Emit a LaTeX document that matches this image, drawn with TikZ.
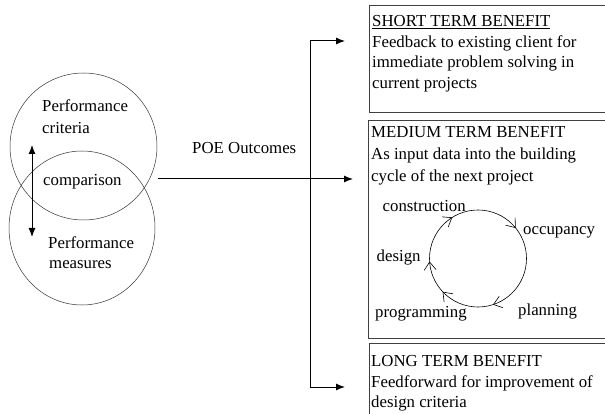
\documentclass[tikz,border=0pt]{standalone}
\usepackage{fontspec}
\setmainfont{Liberation Serif}
\usetikzlibrary{arrows.meta,decorations.markings,shapes.geometric}
\tikzset{cyclebarb/.tip={Straight Barb[length=8pt,width=12pt,line width=0.6pt]}}
\begin{document}
\begin{tikzpicture}[x=1pt,y=-1pt,
  txt/.style={anchor=base west,inner sep=0pt,font=\fontsize{16.8}{20.5}\selectfont},
  boxframe/.style={draw=black!75,line width=0.8pt,rectangle,inner sep=0pt,anchor=north west},
  ring/.style={draw=black!80,line width=0.5pt,ellipse,inner sep=0pt},
  conn/.style={line width=1pt,-{Latex[length=9pt,width=7pt]}},
  plain/.style={line width=1pt}
]
\useasboundingbox (0,0) rectangle (605,414);
\clip (0,0) rectangle (605,414);
% left circles
\node[ring,minimum width=147pt,minimum height=147pt] (crit) at (83.5,146.5) {};
\node[ring,minimum width=146pt,minimum height=154pt] (meas) at (82,228) {};
\node[txt] (t1) at (42,111.7) {Performance};
\node[txt] (t2) at (42,134) {criteria};
\node[txt] (t3) at (43,186) {comparison};
\node[txt] (t4) at (48,248) {Performance};
\node[txt] (t5) at (49,268) {measures};
\coordinate (va) at (32,145);
\coordinate (vb) at (32,237);
\draw[line width=1pt,{Latex[length=9pt,width=7pt]}-{Latex[length=9pt,width=7pt]}] (va) -- (vb);
% POE outcomes
\node[txt] (poe) at (192,154) {POE Outcomes};
\coordinate (ms) at (158,179);
\coordinate (me) at (353,179);
\coordinate (vtop) at (310,41);
\coordinate (vbot) at (310,387);
\coordinate (ste) at (345,41);
\coordinate (lte) at (345,387);
\draw[conn] (ms) -- (me);
\draw[plain] (vtop) -- (vbot);
\draw[conn] (vtop) -- (ste);
\draw[conn] (vbot) -- (lte);
% boxes
\node[boxframe,minimum width=260pt,minimum height=107pt] (short) at (369,5) {};
\node[boxframe,minimum width=260pt,minimum height=218pt] (medium) at (368,120) {};
\node[boxframe,minimum width=260pt,minimum height=90pt] (long) at (369,343) {};
% short text
\node[txt] (s1) at (372,27) {\underline{SHORT TERM BENEFIT}};
\node[txt] (s2) at (372,47.5) {Feedback to existing client for};
\node[txt] (s3) at (372,68) {immediate problem solving in};
\node[txt] (s4) at (372,88.5) {current projects};
% medium text
\node[txt] (m1) at (371,138) {MEDIUM TERM BENEFIT};
\node[txt] (m2) at (371,159.5) {As input data into the building};
\node[txt] (m3) at (371,181.5) {cycle of the next project};
% cycle
\coordinate (cc) at (478,258.5);
\draw[line width=0.6pt,
  decoration={markings,
    mark=at position 0.2 with {\arrow{cyclebarb}},
    mark=at position 0.38 with {\arrow{cyclebarb}},
    mark=at position 0.49 with {\arrow{cyclebarb}},
    mark=at position 0.661 with {\arrow{cyclebarb}},
    mark=at position 0.892 with {\arrow{cyclebarb}}},
  postaction={decorate}]
  (cc) ++(0:48.5) arc[start angle=0,end angle=360,radius=48.5];
\node[txt] (construction) at (382.5,211.5) {construction};
\node[txt] (occupancy) at (523,235) {occupancy};
\node[txt] (design) at (376.5,261.5) {design};
\node[txt] (planning) at (518,315) {planning};
\node[txt] (programming) at (375,317.5) {programming};
% long text
\node[txt] (l1) at (371,366) {LONG TERM BENEFIT};
\node[txt] (l2) at (371,387) {Feedforward for improvement of};
\node[txt] (l3) at (371,407) {design criteria};
\end{tikzpicture}
\end{document}
